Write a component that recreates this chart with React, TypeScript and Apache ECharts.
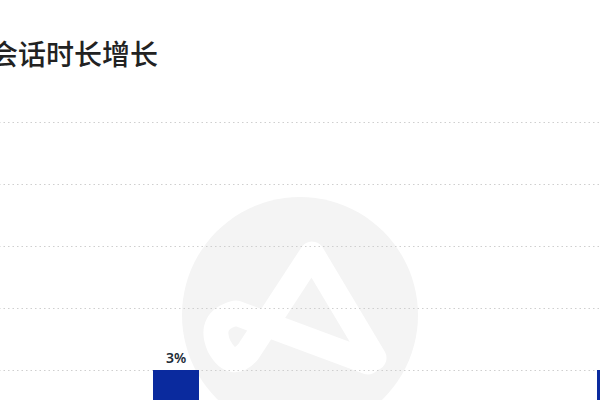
import React, { useEffect, useRef } from 'react';
import * as echarts from 'echarts';

// 数据
const categories = ['类别一', '类别二'];
const growthValues = [3, 3];
const yMin = 0;
const yMax = 15;
const yInterval = 3;

const titleText = '会话时长增长';

// 水印 logo 路径（近似）
const logoPath =
  'M 374 358 L 312 254 L 248 352 Q 232 370 219 346 Q 208 320 236 313 L 368 362';

echarts.graphic.registerShape('logo', echarts.graphic.extendPath(logoPath, {}) as any);

const App: React.FC = () => {
  const chartRef = useRef<HTMLDivElement>(null);

  useEffect(() => {
    if (!chartRef.current) return;
    const chart = echarts.init(chartRef.current, null, { renderer: 'svg' });
    const offsetX = 46;

    const option = {
      animation: false,
      title: {
        text: titleText,
        left: 31,
        top: 34,
        textStyle: {
          fontFamily: 'Noto Sans CJK SC',
          fontSize: 28,
          fontWeight: 500,
          color: '#222222'
        }
      },
      graphic: [
        {
          type: 'circle',
          z: -10,
          silent: true,
          shape: { cx: 300 + offsetX, cy: 315, r: 118 },
          style: { fill: '#f4f4f4' }
        },
        {
          type: 'logo',
          z: -9,
          silent: true,
          x: offsetX,
          y: 0,
          style: {
            fill: 'none',
            stroke: '#ffffff',
            lineWidth: 25,
            lineJoin: 'round',
            lineCap: 'round'
          }
        }
      ],
      grid: {
        left: 0,
        right: 12,
        top: 122,
        bottom: 48
      },
      xAxis: {
        type: 'category',
        data: categories,
        axisLine: { show: false },
        axisTick: { show: false },
        axisLabel: { show: false }
      },
      yAxis: {
        type: 'value',
        min: yMin,
        max: yMax,
        interval: yInterval,
        axisLabel: { show: false },
        axisLine: { show: false },
        axisTick: { show: false },
        splitLine: {
          show: true,
          lineStyle: { color: '#cfcfcf', width: 1, type: [1.5, 3] }
        }
      },
      series: [
        {
          type: 'bar',
          data: growthValues,
          barWidth: 46,
          itemStyle: { color: '#0a2a9e' },
          label: {
            show: true,
            position: 'top',
            distance: 6,
            formatter: '{c}%',
            fontFamily: 'Noto Sans',
            fontSize: 14,
            fontWeight: 600,
            color: '#1c2b36'
          }
        }
      ]
    };

    chart.setOption(option as any);
    return () => {
      chart.dispose();
    };
  }, []);

  return (
    <div
      ref={chartRef}
      style={{ position: 'absolute', left: -46, top: 0, width: 900, height: 480 }}
    />
  );
};

export default App;
